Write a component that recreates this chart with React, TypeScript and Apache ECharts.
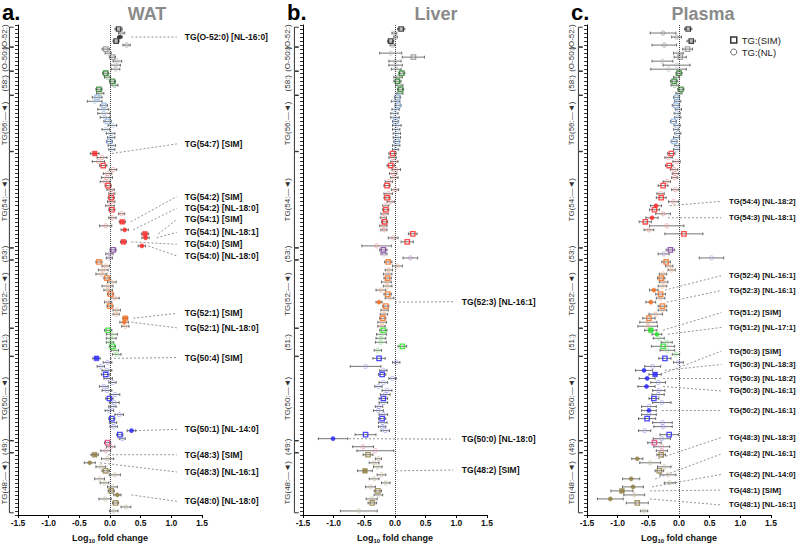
import React, { useEffect, useRef } from 'react';
import * as echarts from 'echarts';

// ---------------- data ----------------
const groupLabels = ['(O-52:)', '(O-50:)', '(58:)', 'TG(56:—◄)', 'TG(54:—◄)', '(53:)', 'TG(52:—◄)', '(51:)', 'TG(50:—◄)', '(49:)', 'TG(48:—◄)'];
const groupSizes = [5, 6, 6, 14, 24, 3, 17, 7, 21, 3, 15];
const simRows = [0, 3, 5, 7, 11, 13, 15, 17, 19, 23, 28, 31, 34, 39, 42, 45, 48, 51, 53, 55, 58, 62, 66, 69, 72, 75, 79, 82, 86, 92, 97, 101, 103, 106, 110, 115, 118];

const watValues = [
  0.14, 0.19, 0.16, 0.10, 0.27, -0.07, -0.03, 0.04, 0.12, 0.09, 0.09,
  -0.07, -0.04, 0.04, 0.07, -0.18, -0.16,
  -0.21, -0.25, -0.10, -0.11, -0.10, -0.08, -0.04, 0.04, -0.07, 0.01, 0.02, -0.01, 0.03, 0.03,
  -0.25, -0.13, -0.19, -0.11, 0.05, -0.04, -0.05, -0.08, -0.03, 0.01, 0.03, 0.02, 0.02, 0.00, 0.03, 0.19, 0.04, 0.20, -0.07, 0.24, 0.57, 0.58, 0.22, 0.52,
  0.05, -0.01, -0.01,
  -0.18, -0.07, -0.11, -0.14, -0.05, 0.03, -0.04, -0.03, 0.01, 0.08, -0.03, 0.00, 0.11, 0.10, 0.25, 0.23, 0.25,
  -0.03, 0.03, 0.02, 0.00, 0.04, 0.08, 0.11,
  -0.22, -0.04, -0.15, -0.05, -0.07, -0.03, 0.04, -0.10, -0.05, 0.08, -0.01, 0.07, 0.04, -0.01, 0.15, 0.03, 0.05, 0.06, 0.35, 0.16, 0.20,
  -0.04, 0.01, -0.07,
  -0.25, -0.04, -0.33, -0.15, -0.07, 0.08, -0.17, -0.09, 0.04, 0.02, 0.12, -0.08, 0.09, 0.26, 0.06,
];
const watErrors = [
  0.06, 0.05, 0.04, 0.05, 0.06, 0.06, 0.05, 0.05, 0.07, 0.08, 0.07,
  0.05, 0.05, 0.05, 0.06, 0.05, 0.06,
  0.08, 0.12, 0.06, 0.09, 0.10, 0.08, 0.06, 0.07, 0.06, 0.07, 0.06, 0.05, 0.06, 0.05,
  0.07, 0.08, 0.10, 0.06, 0.06, 0.07, 0.09, 0.08, 0.05, 0.06, 0.05, 0.05, 0.06, 0.07, 0.05, 0.05, 0.06, 0.05, 0.10, 0.06, 0.06, 0.06, 0.05, 0.06,
  0.05, 0.06, 0.05,
  0.05, 0.06, 0.08, 0.09, 0.05, 0.07, 0.09, 0.07, 0.05, 0.07, 0.06, 0.05, 0.06, 0.05, 0.04, 0.07, 0.06,
  0.06, 0.09, 0.08, 0.06, 0.05, 0.06, 0.07,
  0.06, 0.07, 0.06, 0.08, 0.07, 0.07, 0.06, 0.07, 0.08, 0.08, 0.06, 0.08, 0.06, 0.07, 0.07, 0.05, 0.06, 0.06, 0.07, 0.05, 0.05,
  0.05, 0.07, 0.08,
  0.06, 0.10, 0.09, 0.08, 0.06, 0.09, 0.08, 0.07, 0.08, 0.05, 0.06, 0.10, 0.05, 0.08, 0.07,
];
const watSignificant = [2, 31, 48, 50, 51, 52, 53, 54, 72, 73, 82, 100, 106, 108, 116];

const liverValues = [
  0.10, -0.01, 0.01, -0.07, -0.04, null, -0.07, 0.30, 0.00, 0.01, 0.02,
  0.11, 0.05, 0.04, 0.07, 0.09, 0.08,
  0.04, 0.01, 0.05, 0.01, -0.01, 0.00, 0.01, 0.03, 0.02, 0.03, 0.03, 0.03, 0.02, 0.01,
  -0.04, -0.04, -0.01, -0.07, 0.02, -0.03, -0.01, -0.10, -0.13, 0.00, -0.11, -0.13, -0.07, -0.15, -0.15, -0.17, -0.19, -0.17, -0.19, -0.18, 0.29, -0.03, 0.20, -0.30,
  -0.19, -0.18, 0.25,
  -0.11, 0.04, -0.10, -0.12, -0.12, -0.14, -0.12, -0.23, -0.12, -0.09, -0.26, -0.15, -0.17, -0.18, -0.20, -0.21, -0.22,
  -0.19, -0.22, -0.23, -0.23, 0.12, -0.28, null,
  -0.26, 0.02, -0.48, -0.19, -0.21, -0.04, -0.19, -0.27, -0.13, -0.16, -0.19, -0.19, -0.26, -0.27, -0.19, -0.21, -0.20, -0.21, -0.16, -0.48, -1.01,
  null, -0.52, -0.32,
  -0.44, -0.27, -0.34, -0.28, -0.49, -0.22, -0.34, -0.15, -0.40, -0.28, -0.27, -0.38, -0.37, null, -0.59,
];
const liverErrors = [
  0.06, 0.04, 0.03, 0.05, 0.04, 0.08, 0.18, 0.18, 0.10, 0.11, 0.08,
  0.05, 0.07, 0.06, 0.06, 0.05, 0.05,
  0.05, 0.07, 0.05, 0.06, 0.06, 0.07, 0.05, 0.07, 0.06, 0.06, 0.06, 0.05, 0.06, 0.05,
  0.06, 0.06, 0.06, 0.06, 0.07, 0.06, 0.06, 0.06, 0.05, 0.06, 0.07, 0.05, 0.06, 0.05, 0.05, 0.06, 0.05, 0.05, 0.06, 0.05, 0.07, 0.08, 0.10, 0.24,
  0.06, 0.05, 0.12,
  0.06, 0.08, 0.06, 0.07, 0.06, 0.08, 0.07, 0.08, 0.06, 0.07, 0.05, 0.05, 0.06, 0.06, 0.05, 0.07, 0.06,
  0.06, 0.08, 0.08, 0.09, 0.07, 0.06, 0.06,
  0.10, 0.06, 0.25, 0.06, 0.06, 0.06, 0.07, 0.06, 0.08, 0.08, 0.07, 0.07, 0.06, 0.08, 0.07, 0.06, 0.07, 0.06, 0.07, 0.17, 0.24,
  0.10, 0.17, 0.30,
  0.08, 0.05, 0.08, 0.07, 0.12, 0.07, 0.08, 0.07, 0.08, 0.06, 0.07, 0.09, 0.07, 0.10, 0.30,
];
const liverSignificant = [68, 102, 110];

const plasmaValues = [
  0.15, -0.26, -0.04, 0.20, -0.24, 0.14, -0.01, 0.02, -0.27, -0.04, -0.17,
  0.00, -0.04, -0.08, -0.07, 0.03, 0.00,
  -0.04, -0.02, -0.05, -0.01, -0.03, -0.02, -0.09, -0.03, -0.05, -0.02, -0.04, -0.08, -0.03, -0.04,
  -0.125, -0.17, -0.04, -0.16, -0.08, -0.06, -0.07, -0.20, -0.26, -0.06, -0.30, -0.29, -0.09, -0.375, -0.40, -0.26, -0.44, -0.55, -0.20, -0.49, 0.08, null, null, null,
  -0.14, -0.25, 0.53,
  -0.21, -0.16, -0.12, -0.26, -0.29, -0.25, -0.27, -0.41, -0.30, -0.30, -0.46, -0.27, -0.27, -0.38, -0.49, -0.50, -0.51,
  -0.46, -0.36, -0.33, -0.20, -0.26, -0.19, -0.05,
  -0.23, -0.01, -0.43, -0.57, -0.39, -0.52, -0.34, -0.53, -0.33, -0.34, -0.41, -0.28, -0.49, -0.49, -0.49, -0.52, -0.27, -0.26, -0.56, -0.16, -0.28,
  -0.40, -0.28, -0.28,
  -0.29, -0.68, -0.47, -0.24, -0.32, -0.18, -0.78, -0.15, -0.75, -0.93, -0.73, -1.12, -0.68, null, -0.57,
];
const plasmaErrors = [
  0.06, 0.21, 0.08, 0.07, 0.20, 0.08, 0.08, 0.10, 0.17, 0.22, 0.29,
  0.05, 0.05, 0.06, 0.06, 0.05, 0.05,
  0.05, 0.05, 0.06, 0.05, 0.05, 0.05, 0.05, 0.05, 0.04, 0.05, 0.05, 0.05, 0.04, 0.05,
  0.06, 0.06, 0.06, 0.06, 0.06, 0.05, 0.05, 0.06, 0.08, 0.06, 0.06, 0.08, 0.08, 0.09, 0.08, 0.12, 0.10, 0.10, 0.28, 0.08, 0.31, 0.09, 0.10, 0.10,
  0.07, 0.09, 0.20,
  0.07, 0.06, 0.06, 0.06, 0.06, 0.07, 0.07, 0.07, 0.08, 0.07, 0.08, 0.07, 0.07, 0.11, 0.10, 0.14, 0.16,
  0.10, 0.08, 0.09, 0.09, 0.19, 0.12, 0.06,
  0.10, 0.08, 0.13, 0.14, 0.10, 0.13, 0.12, 0.14, 0.10, 0.10, 0.08, 0.15, 0.12, 0.12, 0.12, 0.14, 0.16, 0.15, 0.10, 0.15, 0.14,
  0.11, 0.13, 0.09,
  0.07, 0.09, 0.17, 0.11, 0.07, 0.13, 0.14, 0.09, 0.17, 0.18, 0.17, 0.21, 0.18, 0.10, 0.06,
];
const plasmaSignificant = [44, 47, 65, 68, 75, 76, 85, 86, 87, 89, 95, 107, 112, 114, 115, 117];

// annotations: text and the row of the marked lipid
const watNoteTexts = ['TG(O-52:0) [NL-16:0]', 'TG(54:7) [SIM]', 'TG(54:2) [SIM]', 'TG(54:2) [NL-18:0]', 'TG(54:1) [SIM]', 'TG(54:1) [NL-18:1]', 'TG(54:0) [SIM]', 'TG(54:0) [NL-18:0]', 'TG(52:1) [SIM]', 'TG(52:1) [NL-18:0]', 'TG(50:4) [SIM]', 'TG(50:1) [NL-14:0]', 'TG(48:3) [SIM]', 'TG(48:3) [NL-16:1]', 'TG(48:0) [NL-18:0]'];
const watNoteRows = [2, 31, 48, 50, 51, 52, 53, 54, 72, 73, 82, 100, 106, 108, 116];
const liverNoteTexts = ['TG(52:3) [NL-16:1]', 'TG(50:0) [NL-18:0]', 'TG(48:2) [SIM]'];
const liverNoteRows = [68, 102, 110];
const plasmaNoteTexts = ['TG(54:4) [NL-18:2]', 'TG(54:3) [NL-18:1]', 'TG(52:4) [NL-16:1]', 'TG(52:3) [NL-16:1]', 'TG(51:2) [SIM]', 'TG(51:2) [NL-17:1]', 'TG(50:3) [SIM]', 'TG(50:3) [NL-18:3]', 'TG(50:3) [NL-18:2]', 'TG(50:3) [NL-16:1]', 'TG(50:2) [NL-16:1]', 'TG(48:3) [NL-18:3]', 'TG(48:2) [NL-16:1]', 'TG(48:2) [NL-14:0]', 'TG(48:1) [SIM]', 'TG(48:1) [NL-16:1]'];
const plasmaNoteRows = [44, 47, 65, 68, 75, 76, 86, 85, 87, 89, 95, 107, 112, 114, 115, 117];

// ---------------- layout / style ----------------
const FONT = '"Liberation Sans", Arial, Helvetica, sans-serif';
const ROWS = 121;
const GRID_LEFT = [18, 303, 587];
const GRID_TOP = 25;
const GRID_W = 184;
const GRID_H = 496;
// leader start (x value), label row (y position in row units)
const watNoteLayout = [[0.35, 2.0], [0.03, 28.6], [0.34, 41.7], [0.38, 44.6], [0.79, 47.4], [0.76, 50.6], [0.35, 53.6], [0.62, 56.5], [0.38, 70.8], [0.35, 74.4], [0.0, 81.8], [0.41, 99.7], [-0.03, 106.0], [-0.16, 110.3], [0.35, 117.6]];
const liverNoteLayout = [[0.0, 67.9], [-0.75, 102.1], [0.02, 109.8]];
const plasmaNoteLayout = [[-0.15, 42.9], [-0.18, 47.0], [-0.23, 61.4], [-0.2, 65.1], [-0.26, 70.6], [-0.18, 74.3], [-0.3, 80.2], [-0.23, 83.5], [-0.26, 87.0], [-0.26, 90.1], [-0.28, 95.0], [-0.34, 101.7], [-0.39, 105.8], [-0.44, 110.9], [-0.47, 114.8], [-0.47, 118.5]];
const LEADER_END = [1.09, 0.95, 0.69];
const LABEL_X = [1.22, 1.09, 0.815];
const NOTE_FONT = [8.5, 8.5, 7.7];
const BRACKET_LABEL_X = [-1.712, -1.745, -1.745];

const strongColors = ['#151515', '#8f8f8f', '#1f7a1f', '#8db3e2', '#ff1f1f', '#7b2fa5', '#f26a1b', '#1fe01f', '#1f1fff', '#e03a7e', '#8e7b3c'];
const lightColors = ['#8f8f8f', '#b8b8b8', '#6aa56a', '#a9c6ec', '#f29090', '#b493d1', '#f2b089', '#8fe68f', '#9d9df5', '#ef92b6', '#c6bd9c'];

const PANELS = [
  { letter: 'a.', title: 'WAT', letterX: 2, titleX: 147, values: watValues, errors: watErrors, sig: watSignificant, notes: watNoteTexts, noteRows: watNoteRows, layout: watNoteLayout },
  { letter: 'b.', title: 'Liver', letterX: 287, titleX: 436, values: liverValues, errors: liverErrors, sig: liverSignificant, notes: liverNoteTexts, noteRows: liverNoteRows, layout: liverNoteLayout },
  { letter: 'c.', title: 'Plasma', letterX: 571, titleX: 703, values: plasmaValues, errors: plasmaErrors, sig: plasmaSignificant, notes: plasmaNoteTexts, noteRows: plasmaNoteRows, layout: plasmaNoteLayout },
];

function buildOption() {
  const rowGroup: number[] = [];
  const groupStart: number[] = [];
  groupSizes.forEach((n, g) => {
    groupStart.push(rowGroup.length);
    for (let k = 0; k < n; k++) rowGroup.push(g);
  });
  const simSet = new Set(simRows);

  const grid: any[] = [];
  const xAxis: any[] = [];
  const yAxis: any[] = [];
  const series: any[] = [];
  const graphic: any[] = [];

  PANELS.forEach((p, i) => {
    grid.push({ left: GRID_LEFT[i], top: GRID_TOP, width: GRID_W, height: GRID_H });
    xAxis.push({
      type: 'value', gridIndex: i, min: -1.5, max: 1.5, interval: 0.5,
      axisLine: { onZero: false, lineStyle: { color: '#000', width: 1 } },
      axisTick: { show: true, length: 3, lineStyle: { color: '#000', width: 1 } },
      axisLabel: { formatter: (v: number) => v.toFixed(1), fontSize: 8.5, fontWeight: 'bold', color: '#111', fontFamily: FONT, margin: 3 },
      splitLine: { show: false },
      name: '{a|Log}{s|10}{a| fold change}',
      nameLocation: 'middle', nameGap: 17,
      nameTextStyle: {
        fontFamily: FONT, fontWeight: 'bold', fontSize: 9, color: '#111',
        rich: {
          a: { fontFamily: FONT, fontWeight: 'bold', fontSize: 9, color: '#111', lineHeight: 12 },
          s: { fontFamily: FONT, fontWeight: 'bold', fontSize: 6, color: '#111', lineHeight: 6, verticalAlign: 'bottom' },
        },
      },
    });
    yAxis.push({
      type: 'value', gridIndex: i, min: -1, max: 121, interval: 1, inverse: true,
      axisLine: { show: true, onZero: false, lineStyle: { color: '#000', width: 1 } },
      axisTick: { show: true, length: 3, lineStyle: { color: '#000', width: 0.8 } },
      axisLabel: { show: false },
      splitLine: { show: false },
    });

    const errData: any[] = [];
    const simData: any[] = [];
    const nlData: any[] = [];
    for (let r = 0; r < ROWS; r++) {
      const v = p.values[r];
      if (v === null || v === undefined) continue;
      const g = rowGroup[r];
      const sim = simSet.has(r);
      const filled = p.sig.includes(r);
      errData.push([v, r, p.errors[r]]);
      if (sim) {
        simData.push({
          value: [v, r],
          symbolSize: filled ? 4.8 : 4.4,
          itemStyle: filled
            ? { color: strongColors[g], borderColor: strongColors[g], borderWidth: 0.5 }
            : { color: 'transparent', borderColor: strongColors[g], borderWidth: 1.3 },
        });
      } else {
        nlData.push({
          value: [v, r],
          symbolSize: 4.2,
          itemStyle: filled
            ? { color: strongColors[g], borderColor: strongColors[g], borderWidth: 0.5 }
            : { color: 'transparent', borderColor: lightColors[g], borderWidth: 0.9 },
        });
      }
    }

    series.push({
      type: 'custom', name: 'err' + i, xAxisIndex: i, yAxisIndex: i, silent: true, z: 2,
      encode: { x: 0, y: 1 },
      data: errData,
      renderItem: (params: any, api: any) => {
        const v = api.value(0), r = api.value(1), e = api.value(2);
        const a = api.coord([v - e, r]);
        const b = api.coord([v + e, r]);
        const st = { stroke: '#3a3a3a', lineWidth: 0.7 };
        return {
          type: 'group',
          children: [
            { type: 'line', shape: { x1: a[0], y1: a[1], x2: b[0], y2: b[1] }, style: st },
            { type: 'line', shape: { x1: a[0], y1: a[1] - 1.4, x2: a[0], y2: a[1] + 1.4 }, style: st },
            { type: 'line', shape: { x1: b[0], y1: b[1] - 1.4, x2: b[0], y2: b[1] + 1.4 }, style: st },
          ],
        };
      },
    });
    series.push({
      type: 'scatter', name: 'TG:(NL)', xAxisIndex: i, yAxisIndex: i, symbol: 'circle', z: 3, silent: true,
      itemStyle: { color: 'transparent', borderColor: '#555', borderWidth: 1 },
      data: nlData,
      markLine: {
        silent: true, symbol: ['none', 'none'], label: { show: false },
        lineStyle: { type: 'dotted', color: '#444', width: 1 },
        data: [{ xAxis: 0 }],
      },
    });
    series.push({
      type: 'scatter', name: 'TG:(SIM)', xAxisIndex: i, yAxisIndex: i, symbol: 'rect', z: 4, silent: true,
      itemStyle: { color: 'transparent', borderColor: '#000', borderWidth: 1.3 },
      data: simData,
    });
    // group brackets
    series.push({
      type: 'custom', name: 'brackets' + i, xAxisIndex: i, yAxisIndex: i, silent: true, clip: false, z: 5,
      encode: { x: 0, y: 1 },
      data: groupSizes.map((n, g) => [-1.64, groupStart[g], groupStart[g] + n - 1, g]),
      renderItem: (params: any, api: any) => {
        const x = api.value(0), s = api.value(1), e = api.value(2), g = api.value(3);
        const top = api.coord([x, s - 0.45]);
        const bot = api.coord([x, e + 0.45]);
        const sx = api.coord([x + 0.07, s])[0];
        const lab = api.coord([BRACKET_LABEL_X[i], (s + e) / 2]);
        const st = { stroke: '#333', lineWidth: 1 };
        return {
          type: 'group',
          children: [
            { type: 'line', shape: { x1: top[0], y1: top[1], x2: bot[0], y2: bot[1] }, style: st },
            { type: 'line', shape: { x1: top[0], y1: top[1], x2: sx, y2: top[1] }, style: st },
            { type: 'line', shape: { x1: bot[0], y1: bot[1], x2: sx, y2: bot[1] }, style: st },
            {
              type: 'text', x: lab[0], y: lab[1], rotation: Math.PI / 2,
              style: {
                text: groupLabels[g], fill: '#333', fontSize: 8, fontFamily: FONT,
                align: 'center', verticalAlign: 'middle', textAlign: 'center', textVerticalAlign: 'middle',
              },
            },
          ],
        };
      },
    });
    // annotations
    series.push({
      type: 'custom', name: 'notes' + i, xAxisIndex: i, yAxisIndex: i, silent: true, clip: false, z: 6,
      encode: { x: 0, y: 1 },
      data: p.noteRows.map((r, k) => [p.layout[k][0], r, p.layout[k][1], k]),
      renderItem: (params: any, api: any) => {
        const p0 = api.coord([api.value(0), api.value(1)]);
        const p1 = api.coord([LEADER_END[i], api.value(2)]);
        const pt = api.coord([LABEL_X[i], api.value(2)]);
        const k = api.value(3);
        return {
          type: 'group',
          children: [
            { type: 'line', shape: { x1: p0[0], y1: p0[1], x2: p1[0], y2: p1[1] }, style: { stroke: '#777', lineWidth: 0.8, lineDash: [2, 2] } },
            {
              type: 'text', x: pt[0], y: pt[1],
              style: {
                text: p.notes[k], fill: '#111', fontSize: NOTE_FONT[i], fontWeight: 'bold', fontFamily: FONT,
                align: 'left', verticalAlign: 'middle', textAlign: 'left', textVerticalAlign: 'middle',
              },
            },
          ],
        };
      },
    });

    graphic.push({
      type: 'text', x: p.letterX, y: 12,
      style: { text: p.letter, fill: '#000', font: 'bold 22px ' + FONT, align: 'left', verticalAlign: 'middle', textAlign: 'left', textVerticalAlign: 'middle' },
    });
    graphic.push({
      type: 'text', x: p.titleX, y: 14,
      style: { text: p.title, fill: '#8a8a8a', font: 'bold 18px ' + FONT, align: 'center', verticalAlign: 'middle', textAlign: 'center', textVerticalAlign: 'middle' },
    });
  });

  return {
    animation: false,
    backgroundColor: '#fff',
    grid, xAxis, yAxis, series, graphic,
    legend: {
      orient: 'vertical', left: 730, top: 35, padding: 0, itemGap: 2, itemWidth: 6, itemHeight: 6,
      selectedMode: false,
      textStyle: { fontSize: 9.5, color: '#222', fontFamily: FONT },
      data: [
        { name: 'TG:(SIM)', icon: 'rect', itemStyle: { color: 'transparent', borderColor: '#000', borderWidth: 1.5 } },
        { name: 'TG:(NL)', icon: 'circle', itemStyle: { color: 'transparent', borderColor: '#444', borderWidth: 1 } },
      ],
    },
  };
}

export default function App() {
  const ref = useRef<HTMLDivElement>(null);
  useEffect(() => {
    const chart = echarts.init(ref.current!, null, { renderer: 'svg' });
    chart.setOption(buildOption() as any);
    return () => chart.dispose();
  }, []);
  return <div ref={ref} style={{ position: 'absolute', left: 0, top: 0, width: 800, height: 549, background: '#fff' }} />;
}
